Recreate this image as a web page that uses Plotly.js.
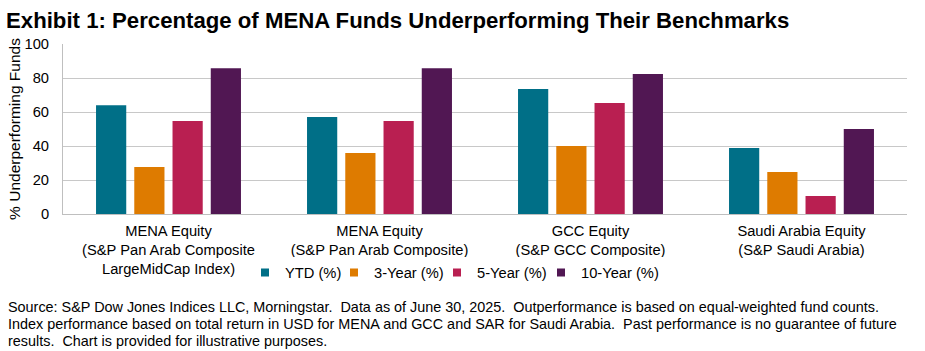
<!DOCTYPE html>
<html>
<head>
<meta charset="utf-8">
<script src="https://cdn.plot.ly/plotly-3.0.1.min.js"></script>
<style>html,body{margin:0;padding:0;background:#fff}#chart{width:925px;height:351px}</style>
</head>
<body>
<div id="chart"></div>
<script>
const categories = ["MENA Equity<br>(S&P Pan Arab Composite<br>LargeMidCap Index)", "MENA Equity<br>(S&P Pan Arab Composite)", "GCC Equity<br>(S&P GCC Composite)", "Saudi Arabia Equity<br>(S&P Saudi Arabia)"];
const seriesNames = ["YTD (%)", "3-Year (%)", "5-Year (%)", "10-Year (%)"];
const ytd = [63.9, 57.1, 73.5, 38.8];
const year3 = [27.6, 35.9, 40.0, 24.7];
const year5 = [54.7, 54.7, 65.3, 10.6];
const year10 = [85.7, 85.7, 82.4, 50.0];
const yTicks = [0, 20, 40, 60, 80, 100];
const footLines = [
  "Source: S&P Dow Jones Indices LLC, Morningstar.  Data as of June 30, 2025.  Outperformance is based on equal-weighted fund counts.",
  "Index performance based on total return in USD for MENA and GCC and SAR for Saudi Arabia.  Past performance is no guarantee of future",
  "results.  Chart is provided for illustrative purposes."
];
const colors = ["#006F87", "#DE7B00", "#B91F51", "#511753"];
const legendWidths = [44, 58, 59, 82];

const font = "Liberation Sans, Arial, sans-serif";
const fs = 14.7;
const series = [ytd, year3, year5, year10];
const traces = series.map((vals, i) => ({
  type: "bar",
  name: seriesNames[i],
  x: categories,
  y: vals,
  marker: {color: colors[i]},
  hoverinfo: "none",
  showlegend: false
}));
// legend-only entries (small square keys)
seriesNames.forEach((n, i) => traces.push({
  type: "scatter", mode: "markers", name: n,
  x: [categories[0]], y: [null],
  marker: {symbol: "square", size: 8, color: colors[i]},
  legendwidth: legendWidths[i],
  hoverinfo: "none", showlegend: true
}));

const plotTop = 44, plotBot = 214, plotH = plotBot - plotTop;
const py = (pix) => (plotBot - pix) / plotH;

const layout = {
  width: 925, height: 351,
  margin: {l: 63, r: 18, t: 44, b: 137},
  paper_bgcolor: "#fff", plot_bgcolor: "#fff",
  font: {family: font, size: fs, color: "#000"},
  barmode: "group",
  bargap: 0.275,
  bargroupgap: 0.21,
  title: {
    text: "<b>Exhibit 1: Percentage of MENA Funds Underperforming Their Benchmarks</b>",
    font: {family: font, size: 22.2, color: "#000"},
    x: 6/925, xanchor: "left", xref: "container",
    y: 1 - 20/351, yanchor: "middle", yref: "container"
  },
  xaxis: {
    type: "category",
    tickvals: categories, ticktext: categories,
    showline: true, linecolor: "#BFBFBF", linewidth: 1,
    ticks: "", showgrid: false,
    ticklabelstandoff: 3,
    tickfont: {family: font, size: fs, color: "#000"}
  },
  yaxis: {
    range: [0, 100], tickvals: yTicks, ticktext: yTicks.map(String),
    showgrid: true, gridcolor: "#C8C8C8", gridwidth: 1,
    zeroline: false, showline: true, linecolor: "#BFBFBF", linewidth: 1, ticks: "",
    ticklabelstandoff: 10,
    tickfont: {family: font, size: fs, color: "#000"},
    title: {text: "% Underperforming Funds", font: {family: font, size: 15.5, color: "#000"}, standoff: 0}
  },
  legend: {
    orientation: "h", x: (245-63)/844, xanchor: "left", y: py(273), yanchor: "middle",
    font: {family: font, size: fs, color: "#000"},
    itemclick: false, tracegroupgap: 0, itemwidth: 30
  },
  annotations: footLines.map((t, i) => ({
    text: t,
    xref: "paper", yref: "paper",
    x: (6-63)/844, xanchor: "left", align: "left",
    y: py(307 + 17*i), yanchor: "middle",
    showarrow: false,
    font: {family: font, size: 14.4, color: "#000"}
  }))
};

Plotly.newPlot("chart", traces, layout, {displayModeBar: false, staticPlot: true});
</script>
</body>
</html>
